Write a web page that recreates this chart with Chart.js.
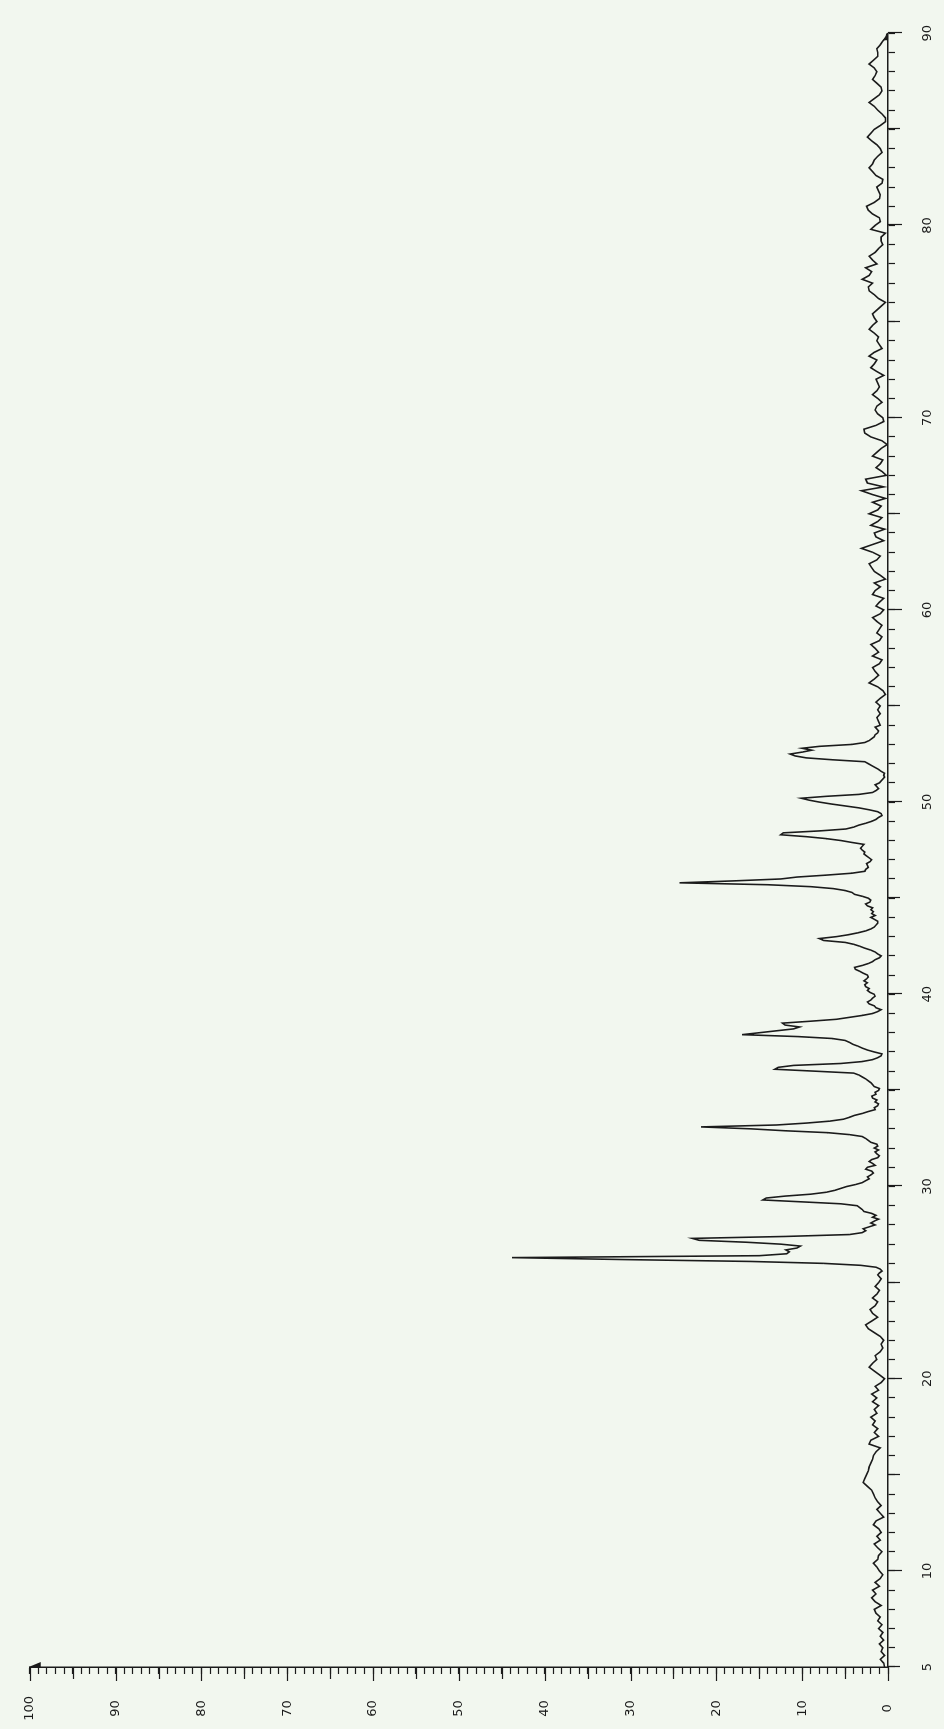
<!DOCTYPE html>
<html>
<head>
<meta charset="utf-8">
<script src="https://cdn.jsdelivr.net/npm/chart.js@4.4.1/dist/chart.umd.min.js"></script>
<style>
  html, body { margin: 0; padding: 0; background: #f2f7ef; overflow: hidden; }
  #page { position: relative; width: 944px; height: 1729px; }
  /* the scan is printed sideways: draw it landscape, then turn it */
  #xrd { position: absolute; left: 0; top: 0; transform-origin: 0 0; transform: translateY(1729px) rotate(-90deg); }
</style>
</head>
<body>
<div id="page"><canvas id="xrd" width="1729" height="944"></canvas></div>
<script>
const ink = '#1b1b1b';

// 2-theta 5.0 .. 25.4, step 0.2
const lowStart = 5.0, lowStep = 0.2;
const lowCounts = [
  0.4, 0.5, 0.9, 0.4, 0.8, 0.6, 1.0, 0.5, 0.9, 0.6,
  1.1, 0.7, 1.2, 0.9, 1.4, 1.6, 0.8, 1.5, 1.9, 1.4,
  1.8, 1.0, 1.5, 0.9, 0.6, 1.0, 1.3, 1.7, 1.2, 1.1,
  0.7, 1.2, 1.6, 0.9, 1.3, 0.8, 1.1, 1.7, 1.4, 0.5,
  0.9, 1.3, 0.8, 1.2, 1.5, 1.7, 1.9, 2.4, 2.9, 2.7,
  2.5, 2.3, 2.2, 2.0, 1.8, 1.7, 1.4, 0.9, 2.2, 2.0,
  1.1, 1.6, 1.2, 1.8, 1.5, 2.0, 1.3, 1.6, 1.1, 1.8,
  1.3, 1.9, 1.1, 1.5, 0.8, 0.4, 1.0, 1.6, 2.2, 1.8,
  1.3, 1.5, 0.9, 0.6, 0.8, 0.5, 0.9, 1.6, 2.3, 2.6,
  1.9, 1.2, 1.8, 2.1, 1.5, 1.2, 1.8, 1.3, 1.0, 1.5,
  1.1, 0.8, 1.2
];

// 2-theta 25.5 .. 54.0, step 0.1 (peak region)
const peakStart = 25.5, peakStep = 0.1;
const peakCounts = [
  1.0, 0.7, 0.9, 1.4, 3.2, 7.5, 16, 31, 43.8, 15,
  11.8, 11.5, 11.9, 10.6, 10.2, 12.5, 16.5, 22, 22.8, 12,
  4.5, 3.0, 2.6, 2.9, 2.2, 1.5, 2.0, 1.6, 1.1, 1.8,
  1.4, 1.9, 2.8, 3.0, 3.3, 3.6, 5.5, 10, 14.6, 14.2,
  12, 9, 7.2, 6.2, 5.5, 4.8, 3.8, 3.0, 2.6, 2.2,
  2.4, 2.0, 1.7, 1.9, 2.6, 2.4, 1.5, 1.8, 2.2, 1.9,
  1.2, 1.0, 1.3, 1.5, 1.1, 1.6, 1.2, 1.3, 2.0, 2.3,
  2.6, 3.0, 4.5, 7.0, 12, 16, 21.8, 13, 9.5, 6.8,
  5.2, 4.5, 3.9, 3.0, 2.3, 1.5, 1.6, 1.2, 1.1, 1.5,
  1.3, 1.8, 1.9, 1.4, 1.5, 1.1, 1.0, 1.6, 1.8, 2.0,
  2.3, 2.6, 3.0, 3.4, 4.0, 8.5, 13.2, 12.8, 11, 5.5,
  3.0, 1.8, 1.2, 0.8, 0.7, 1.6, 2.4, 3.0, 3.5, 4.1,
  4.5, 5.0, 6.5, 10.5, 17, 15, 13, 11, 10.3, 12,
  12.3, 9, 6, 4.5, 3.0, 1.8, 1.2, 0.8, 1.4, 1.6,
  2.2, 2.4, 2.0, 1.8, 1.5, 1.6, 2.1, 2.4, 2.2, 2.6,
  2.7, 2.4, 2.8, 2.5, 2.3, 2.4, 2.9, 3.3, 3.8, 3.9,
  3.0, 2.3, 1.8, 1.5, 1.0, 0.8, 1.2, 1.5, 2.0, 2.7,
  3.3, 4.0, 5.0, 7.5, 8.0, 6.0, 4.6, 3.5, 2.6, 2.0,
  1.6, 1.4, 1.2, 1.2, 1.6, 2.0, 1.5, 1.9, 1.7, 2.0,
  1.8, 2.4, 2.6, 2.1, 2.0, 2.3, 3.0, 3.9, 4.2, 5.0,
  6.4, 9.0, 14, 24.3, 18, 12.5, 10.6, 7.2, 4.2, 2.7,
  2.6, 2.3, 2.4, 2.5, 2.1, 1.9, 2.2, 2.5, 2.8, 2.7,
  3.0, 3.2, 3.0, 2.8, 4.2, 5.5, 7.2, 9.5, 12.5, 12.2,
  8.0, 4.9, 4.0, 3.4, 2.6, 1.9, 1.4, 1.1, 0.7, 0.8,
  1.2, 2.2, 3.4, 5.0, 6.6, 8.0, 9.2, 10.1, 7.2, 3.4,
  1.8, 1.4, 1.1, 1.3, 1.5, 1.0, 0.8, 0.6, 0.4, 0.5,
  0.4, 0.8, 1.1, 1.5, 1.9, 2.3, 2.7, 6.4, 9.5, 10.8,
  11.4, 10.0, 8.9, 10.0, 8.0, 4.2, 2.7, 2.2, 1.9, 1.6,
  1.5, 1.2, 1.1, 1.3, 1.5, 0.9
];

// 2-theta 54.2 .. 90.0, step 0.2
const highStart = 54.2, highStep = 0.2;
const highCounts = [
  1.1, 1.3, 0.9, 1.2, 0.9, 1.4, 0.9, 0.3, 0.6, 1.2,
  2.2, 1.6, 1.1, 1.5, 1.8, 1.0, 0.7, 1.8, 1.1, 1.5,
  2.0, 1.0, 0.7, 1.3, 1.0, 0.7, 1.3, 1.8, 0.9, 0.5,
  1.4, 1.0, 0.5, 1.8, 1.5, 0.9, 1.6, 0.3, 0.9, 1.6,
  1.9, 2.2, 1.3, 0.9, 1.8, 3.1, 1.8, 0.5, 1.4, 1.6,
  0.4, 2.0, 1.2, 0.7, 2.2, 1.2, 0.8, 1.8, 0.3, 1.8,
  3.1, 0.5, 2.4, 2.6, 0.2, 0.7, 1.4, 0.9, 0.6, 1.8,
  1.3, 0.8, 0.1, 0.7, 2.0, 2.7, 2.8, 1.4, 0.5, 0.6,
  1.2, 1.5, 1.3, 0.7, 1.2, 1.8, 1.3, 1.0, 1.2, 1.4,
  0.5, 1.3, 2.0, 1.6, 1.3, 2.2, 1.6, 0.7, 1.0, 1.3,
  1.1, 1.6, 2.2, 1.8, 1.3, 1.6, 1.8, 1.3, 0.8, 0.3,
  1.1, 1.6, 2.2, 2.3, 1.8, 3.0, 2.2, 1.9, 2.6, 1.3,
  1.8, 2.2, 1.5, 1.1, 0.6, 0.8, 0.8, 0.3, 2.0, 1.5,
  0.9, 1.0, 1.8, 2.3, 2.5, 1.6, 1.0, 0.9, 1.1, 1.3,
  0.7, 0.6, 1.4, 1.8, 2.2, 1.8, 1.6, 1.2, 0.7, 0.9,
  1.3, 1.9, 2.4, 2.0, 1.6, 0.9, 0.3, 0.3, 0.7, 1.2,
  1.6, 2.2, 1.6, 1.0, 0.7, 0.8, 1.3, 1.8, 1.5, 1.3,
  1.6, 2.2, 1.7, 1.2, 1.2, 1.3, 0.9, 0.6, 0.2, 0.1
];

const angleLabels = [5, 10, 20, 30, 40, 50, 60, 70, 80, 90];
const intensityLabels = [0, 10, 20, 30, 40, 50, 60, 70, 80, 90, 100];

const pattern = [];
function addSegment(start, step, counts) {
  counts.forEach((c, i) => pattern.push({ x: +(start + i * step).toFixed(1), y: c }));
}
addSegment(lowStart, lowStep, lowCounts);
addSegment(peakStart, peakStep, peakCounts);
addSegment(highStart, highStep, highCounts);

// long ticks every 5 / 10 and the little arrow heads at the axis ends
const axisMarks = {
  id: 'axisMarks',
  afterDraw(chart) {
    const { ctx, scales: { x, y } } = chart;
    ctx.save();
    ctx.strokeStyle = ink;
    ctx.fillStyle = ink;
    ctx.lineWidth = 1.2;
    x.ticks.forEach(t => {
      const len = t.value % 10 === 0 ? 14 : (t.value % 5 === 0 ? 12 : 0);
      if (!len) return;
      const px = Math.round(x.getPixelForValue(t.value)) + 0.5;
      ctx.beginPath(); ctx.moveTo(px, x.top); ctx.lineTo(px, x.top + len); ctx.stroke();
    });
    y.ticks.forEach(t => {
      const len = t.value % 10 === 0 ? 14 : (t.value % 5 === 0 ? 12 : 0);
      if (!len) return;
      const py = Math.round(y.getPixelForValue(t.value)) + 0.5;
      ctx.beginPath(); ctx.moveTo(y.right, py); ctx.lineTo(y.right - len, py); ctx.stroke();
    });
    const xEnd = x.getPixelForValue(90), xBase = x.top;
    ctx.beginPath(); ctx.moveTo(xEnd + 1, xBase); ctx.lineTo(xEnd - 7, xBase - 5); ctx.lineTo(xEnd - 7, xBase); ctx.closePath(); ctx.fill();
    const yEnd = y.getPixelForValue(100), yBase = y.right;
    ctx.beginPath(); ctx.moveTo(yBase, yEnd - 1); ctx.lineTo(yBase + 5, yEnd + 11); ctx.lineTo(yBase, yEnd + 11); ctx.closePath(); ctx.fill();
    ctx.restore();
  }
};

const tickFont = { family: "'DejaVu Sans', 'Liberation Sans', sans-serif", size: 13 };

new Chart(document.getElementById('xrd'), {
  type: 'scatter',
  data: {
    datasets: [{
      data: pattern,
      showLine: true,
      borderColor: ink,
      borderWidth: 1.6,
      pointRadius: 0,
      tension: 0
    }]
  },
  options: {
    responsive: false,
    animation: false,
    events: [],
    layout: { padding: { top: 9, right: 31, left: 0, bottom: 0 } },
    plugins: { legend: { display: false }, tooltip: { enabled: false } },
    scales: {
      x: {
        type: 'linear',
        position: 'bottom',
        min: 5,
        max: 90,
        border: { display: true, color: ink, width: 1.5 },
        grid: { drawOnChartArea: false, drawTicks: true, tickLength: 7, tickColor: ink, tickWidth: 1.2 },
        ticks: {
          stepSize: 1,
          autoSkip: false,
          maxRotation: 0,
          minRotation: 0,
          padding: 25,
          color: ink,
          font: tickFont,
          callback: v => angleLabels.includes(v) ? String(v) : ''
        },
        afterFit: s => { s.height = 56; }
      },
      y: {
        type: 'linear',
        position: 'left',
        min: 0,
        max: 100,
        border: { display: true, color: ink, width: 1.5 },
        grid: { drawOnChartArea: false, drawTicks: true, tickLength: 7, tickColor: ink, tickWidth: 1.2 },
        ticks: {
          stepSize: 1,
          autoSkip: false,
          padding: 22,
          crossAlign: 'center',
          color: ink,
          font: tickFont,
          callback: v => intensityLabels.includes(v) ? String(v) : ''
        },
        afterFit: s => { s.width = 62; }
      }
    }
  },
  plugins: [axisMarks]
});
</script>
</body>
</html>
